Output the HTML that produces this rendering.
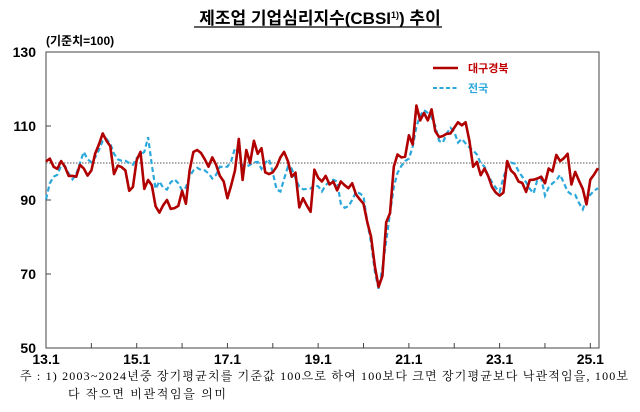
<!DOCTYPE html>
<html><head><meta charset="utf-8">
<style>
body{margin:0;background:#fff;width:640px;height:407px;overflow:hidden;font-family:"Liberation Sans","Noto Sans CJK KR",sans-serif;}
svg text{font-family:"Liberation Sans","Noto Sans CJK KR",sans-serif;}
</style></head><body>
<svg width="640" height="407" viewBox="0 0 640 407">
<text x="320" y="24" text-anchor="middle" font-size="17" font-weight="bold">제조업 기업심리지수(CBSI<tspan font-size="9" dy="-6">1)</tspan><tspan dy="6">) 추이</tspan></text>
<line x1="194" y1="27" x2="442" y2="27" stroke="#000" stroke-width="1.2"/>
<text x="46" y="45" font-size="12" font-weight="bold">(기준치=100)</text>
<rect x="46" y="52" width="553" height="296" fill="none" stroke="#444" stroke-width="1"/>
<g id="yaxis"></g>
<g id="xaxis"></g>
<line id="ref" stroke="#777" stroke-width="1.2" stroke-dasharray="1.5,1.5"/>
<g id="series"></g>
<g>
<line x1="433" y1="68" x2="458" y2="68" stroke="#b00000" stroke-width="2.5"/>
<text x="468" y="72" font-size="11" font-weight="bold" fill="#c00000">대구경북</text>
<line x1="433" y1="88" x2="458" y2="88" stroke="#2aa8dc" stroke-width="2" stroke-dasharray="4,2.5"/>
<text x="468" y="92" font-size="11" font-weight="bold" fill="#2aa8dc">전국</text>
</g>
<text x="20" y="380" font-size="12" textLength="608" lengthAdjust="spacing" style="font-family:'Liberation Serif','Noto Serif CJK SC',serif">주 : 1) 2003~2024년중 장기평균치를 기준값 100으로 하여 100보다 크면 장기평균보다 낙관적임을, 100보</text>
<text x="68" y="398" font-size="12" textLength="158" lengthAdjust="spacing" style="font-family:'Liberation Serif','Noto Serif CJK SC',serif">다 작으면 비관적임을 의미</text>
</svg>
<script>
const yTicks=[50,70,90,110,130];
const xLabels=["13.1","15.1","17.1","19.1","21.1","23.1","25.1"];
const daegu=[100.4,101.2,99,98.4,100.5,99,96.5,96.5,96.3,99.5,98.5,96.6,98,102.5,105,108,106,104.5,97,99.3,98.9,98,92.5,93.5,100.8,103,93,95.4,94,88.3,86.6,88.6,90,87.6,87.8,88.4,92.5,89,98,103,103.5,102.7,101,99,101.5,99.5,96.5,95,90.5,94,98,106.5,95.4,103.5,100,106,102.5,104,97.5,97,97.5,99,101.5,103,100.5,96.3,97.4,88,90.5,88.5,86.8,98.2,96,95,96.5,94.2,95,92.6,95,94,93.2,94.5,91.5,90.2,89,84,80,72,66.5,69.5,84,86.4,99,102.3,101.5,101.7,107.5,105,115.5,111.5,113.5,111.5,114.5,108.6,107,107.3,107.9,108,109.5,111,110.2,111,106,99,100.3,96.7,98.5,96.4,93.5,92,91.2,92,100.5,98,97,95,94.6,92.2,95.4,95.5,95.8,96.3,94.5,98.5,97.7,102.2,100.5,101.3,102.5,94.2,97.6,95.2,93,88.8,95.5,96.9,98.6];
const national=[90.2,94.5,96.3,96.8,99.3,99.2,97.2,95.6,97,100,103,101,100.2,101.5,103.5,106,106.5,105.2,102.5,101,100.6,100.6,100,99.5,101.4,102.2,103,107,99.5,93,95,93.3,92.8,94.8,95.6,94.5,92.6,93.4,96.3,98,98.7,98.1,98,97.2,95.8,96.8,99,98.9,99,100.5,104,103.2,99,99,99.5,100.2,100.3,98.4,100,101,97.5,92.8,92.3,95.7,99,98.5,95.8,93.6,92.9,93,93.1,94,93.7,92.3,94,95,95.5,95,89,87.9,88.3,90,92.2,91.8,91,84,78.5,70.5,66,71.5,79,86.4,93.5,97.3,99.2,100.5,101.2,104.4,109.8,112.8,114.3,113.5,112.3,110,106,105.5,108,109.5,108.5,105.5,106.5,105.3,104.2,103.4,102.3,99.9,99,96.5,94.8,93.3,92.2,96,99,100.1,99.8,97.8,96.3,94.8,93,91.8,95.5,95.9,91.2,93.4,94.5,95.3,96.8,94.6,92.3,91.5,91.4,89.2,87.5,90.3,91.4,92.5,93.2];
const NS="http://www.w3.org/2000/svg";
const X0=46,MPX=3.78,Y0=348,PPU=3.7;
function xs(i){return X0+i*MPX;}
function ys(v){return Y0-(v-50)*PPU;}
function mk(tag,attrs,parent){const e=document.createElementNS(NS,tag);for(const k in attrs)e.setAttribute(k,attrs[k]);parent.appendChild(e);return e;}
const ya=document.getElementById('yaxis');
yTicks.forEach(v=>{
  const t=mk('text',{x:36,y:ys(v)+5,'text-anchor':'end','font-size':'14','font-weight':'bold'},ya);
  
  
  t.textContent=v;
  if(v>50&&v<130){const l=mk('line',{x1:X0,x2:X0+5,y1:ys(v),y2:ys(v),stroke:'#444'},ya);
  
  }
});
const xa=document.getElementById('xaxis');
for(let yr=0;yr<=12;yr++){
  const x=xs(yr*12);
  const l=mk('line',{x1:x,x2:x,y1:Y0,y2:Y0-5,stroke:'#444'},xa);
  
  
}
xLabels.forEach((s,k)=>{
  const t=mk('text',{x:xs(k*24),y:364,'text-anchor':'middle','font-size':'14','font-weight':'bold'},xa);
  
  
  t.textContent=s;
});
const ref=document.getElementById('ref');
ref.setAttribute('x1',X0);ref.setAttribute('x2',599);ref.setAttribute('y1',ys(100));ref.setAttribute('y2',ys(100));
const sg=document.getElementById('series');
function pts(arr){return arr.map((v,i)=>xs(i).toFixed(1)+','+ys(v).toFixed(1)).join(' ');}
const pn=mk('polyline',{points:pts(national),fill:'none',stroke:'#2aa8dc','stroke-width':'2.2','stroke-dasharray':'5,3'},sg);


const pd=mk('polyline',{points:pts(daegu),fill:'none',stroke:'#b00000','stroke-width':'2.6','stroke-linejoin':'round'},sg);


</script>
</body></html>
